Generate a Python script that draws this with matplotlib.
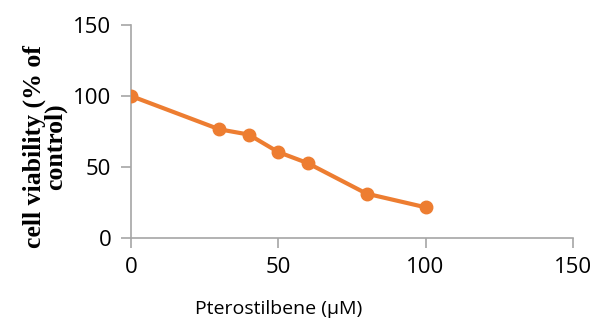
import matplotlib
matplotlib.use('Agg')
import matplotlib.pyplot as plt

conc = [0, 30, 40, 50, 60, 80, 100]
viability = [100, 76.5, 72.8, 60.5, 52.7, 31.2, 21.6]
err = [0, 2, 2, 2.5, 2, 2, 2]

fig = plt.figure(figsize=(6.03, 3.19), dpi=100)
ax = fig.add_axes([0.217, 0.254, 0.733, 0.668])

ax.errorbar(conc, viability, yerr=err, color='#ED7D31', lw=3, marker='o',
            markersize=9, ecolor='black', elinewidth=0.8, capsize=2, zorder=3)

ax.set_xlim(0, 150)
ax.set_ylim(0, 150)
ax.set_xticks([0, 50, 100, 150])
ax.set_yticks([0, 50, 100, 150])
for s in ['top', 'right']:
    ax.spines[s].set_visible(False)
for s in ['left', 'bottom']:
    ax.spines[s].set_color('#A6A6A6')
    ax.spines[s].set_linewidth(1.2)
ax.tick_params(colors='#A6A6A6', length=7, width=1.2, labelcolor='black',
               labelsize=16, pad=7)
for lab in ax.get_xticklabels() + ax.get_yticklabels():
    lab.set_family('Open Sans')

ax.set_xlabel('Pterostilbene (\u03bcM)', fontsize=14, family='Open Sans')
ax.xaxis.set_label_coords(0.335, -0.29)
ax.set_ylabel('cell viability (% of\ncontrol)', fontsize=18.5, family='Liberation Serif',
              fontweight='bold', linespacing=0.85)
ax.yaxis.set_label_coords(-0.145, 0.43)

plt.savefig('out.png', dpi=100)
